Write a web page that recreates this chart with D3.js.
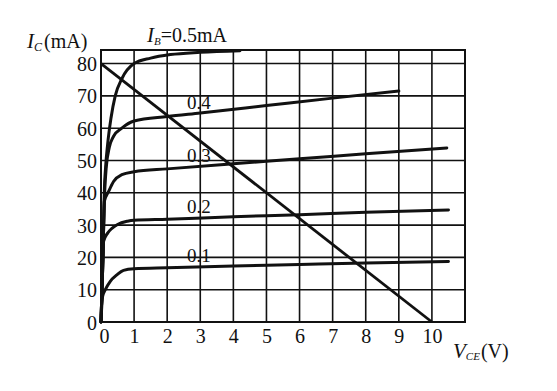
<!DOCTYPE html>
<html lang="ja">
<head>
    <meta charset="UTF-8">
    <title>Ic - Vce</title>
    <style>
        body {
            margin: 0;
            padding: 0;
            background-color: white;
        }

        text {
            font-family: "Liberation Serif", "DejaVu Serif", serif;
            fill: #111;
        }
    </style>
</head>
<body>
    <div id="chart"></div>

    <script src="https://cdn.jsdelivr.net/npm/d3@7"></script>
    <script>

        // data
        const xTicks = [0, 1, 2, 3, 4, 5, 6, 7, 8, 9, 10];
        const yTicks = [0, 10, 20, 30, 40, 50, 60, 70, 80];
        const xGrid = [0, 1, 2, 3, 4, 5, 6, 7, 8, 9, 10, 11];

        const ibLabels = ["0.1", "0.2", "0.3", "0.4"];

        // [Vce (V), Ic (mA)]
        const ib01 = [[0, 0], [0.03, 6], [0.05, 8], [0.13, 10], [0.28, 12.6], [0.48, 14.6], [0.68, 16],
            [1, 16.5], [2, 16.8], [4, 17.3], [6, 17.8], [8, 18.3], [10.5, 18.7]];
        const ib02 = [[0, 0], [0.03, 10], [0.05, 20], [0.08, 25], [0.2, 27.5], [0.33, 29], [0.5, 30.2],
            [0.8, 31.2], [1, 31.5], [2, 31.8], [4, 32.6], [6, 33.2], [8, 34], [10.5, 34.7]];
        const ib03 = [[0, 0], [0.03, 10], [0.06, 20], [0.08, 30], [0.1, 37.3], [0.23, 40.4], [0.38, 43.5],
            [0.63, 45.6], [1, 46.5], [2, 47.4], [4, 49], [6, 50.5], [8, 52.1], [10.45, 53.9]];
        const ib04 = [[0, 0], [0.03, 10], [0.06, 20], [0.08, 30], [0.11, 40], [0.16, 48], [0.25, 54],
            [0.38, 57.5], [0.63, 60], [1, 62.2], [2, 63.6], [3, 64.7], [5, 67], [7, 69.3], [9, 71.5]];
        const ib05 = [[0, 0], [0.03, 10], [0.06, 20], [0.08, 30], [0.1, 40], [0.14, 48], [0.2, 55],
            [0.3, 63], [0.43, 70], [0.63, 75.3], [1, 80], [1.5, 81.7], [2.1, 82.8], [3, 83.5], [4.2, 84]];

        // load line
        const loadLine = [[0, 80], [10, 0]];

        const curves = [ib01, ib02, ib03, ib04, ib05];

        const w = 557;
        const h = 391;

        const x = d3.scaleLinear().domain([0, 11]).range([101, 465]);
        const y = d3.scaleLinear().domain([0, 84.2]).range([322, 50]);

        const svg = d3.select("#chart")
            .append("svg")
            .attr("width", w)
            .attr("height", h);

        // grid
        svg.append("g")
            .selectAll("line")
            .data(xGrid)
            .enter()
            .append("line")
            .attr("x1", d => x(d))
            .attr("x2", d => x(d))
            .attr("y1", y(0))
            .attr("y2", y(84.2))
            .attr("stroke", "#111")
            .attr("stroke-width", 1.6);

        svg.append("g")
            .selectAll("line")
            .data(yTicks)
            .enter()
            .append("line")
            .attr("x1", x(0))
            .attr("x2", x(11))
            .attr("y1", d => y(d))
            .attr("y2", d => y(d))
            .attr("stroke", "#111")
            .attr("stroke-width", 1.6);

        // frame
        svg.append("rect")
            .attr("x", x(0))
            .attr("y", y(84.2))
            .attr("width", x(11) - x(0))
            .attr("height", y(0) - y(84.2))
            .attr("fill", "none")
            .attr("stroke", "#111")
            .attr("stroke-width", 2);

        // axes (labels only)
        const yAxis = svg.append("g")
            .attr("transform", `translate(${x(0)},0)`)
            .call(d3.axisLeft(y).tickValues(yTicks).tickSize(0).tickPadding(4));
        yAxis.select(".domain").remove();
        yAxis.selectAll("text")
            .attr("font-size", 20)
            .attr("dy", "0.35em")
            .style("font-family", "Liberation Serif");

        const xAxis = svg.append("g")
            .attr("transform", `translate(0,${y(0)})`)
            .call(d3.axisBottom(x).tickValues(xTicks).tickSize(0).tickPadding(7));
        xAxis.select(".domain").remove();
        xAxis.selectAll("text")
            .attr("font-size", 20)
            .style("font-family", "Liberation Serif");
        xAxis.selectAll(".tick text").filter(d => d === 0).attr("dx", 3);

        // curves
        const line = d3.line()
            .x(d => x(d[0]))
            .y(d => y(d[1]))
            .curve(d3.curveMonotoneX);

        svg.append("g")
            .selectAll("path")
            .data(curves)
            .enter()
            .append("path")
            .attr("d", line)
            .attr("fill", "none")
            .attr("stroke", "#111")
            .attr("stroke-width", 3)
            .attr("stroke-linecap", "round");

        svg.append("path")
            .datum(loadLine)
            .attr("d", d3.line().x(d => x(d[0])).y(d => y(d[1])))
            .attr("stroke", "#111")
            .attr("stroke-width", 2.8)
            .attr("fill", "none");

        // curve labels, sitting on the curves
        const labelX = 2.6;
        const valueAt = (pts, v) => {
            const i = d3.bisector(d => d[0]).left(pts, v);
            const a = pts[i - 1], b = pts[i];
            return a[1] + (b[1] - a[1]) * (v - a[0]) / (b[0] - a[0]);
        };

        svg.append("g")
            .selectAll("text")
            .data(ibLabels)
            .enter()
            .append("text")
            .attr("x", x(labelX))
            .attr("y", (d, i) => y(valueAt(curves[i], labelX)) - 5)
            .attr("font-size", 19)
            .text(d => d);

        // titles
        const ibTitle = svg.append("text")
            .attr("x", 147)
            .attr("y", 42)
            .attr("font-size", 20);
        ibTitle.append("tspan").attr("font-style", "italic").attr("font-size", 21).text("I");
        ibTitle.append("tspan").attr("font-style", "italic").attr("font-size", 11).attr("dy", 3).text("B");
        ibTitle.append("tspan").attr("dy", -3).text("=0.5mA");

        const icTitle = svg.append("text")
            .attr("x", 27)
            .attr("y", 48)
            .attr("font-size", 20);
        icTitle.append("tspan").attr("font-style", "italic").attr("font-size", 21).text("I");
        icTitle.append("tspan").attr("font-style", "italic").attr("font-size", 12).attr("dy", 3).text("C");
        icTitle.append("tspan").attr("dy", -3).attr("dx", 2).text("(mA)");

        const vTitle = svg.append("text")
            .attr("x", 453)
            .attr("y", 358)
            .attr("font-size", 20);
        vTitle.append("tspan").attr("font-style", "italic").attr("font-size", 21).text("V");
        vTitle.append("tspan").attr("font-style", "italic").attr("font-size", 11).attr("dy", 2).text("CE");
        vTitle.append("tspan").attr("dy", -2).attr("dx", 1).text("(V)");

    </script>
</body>
</html>
